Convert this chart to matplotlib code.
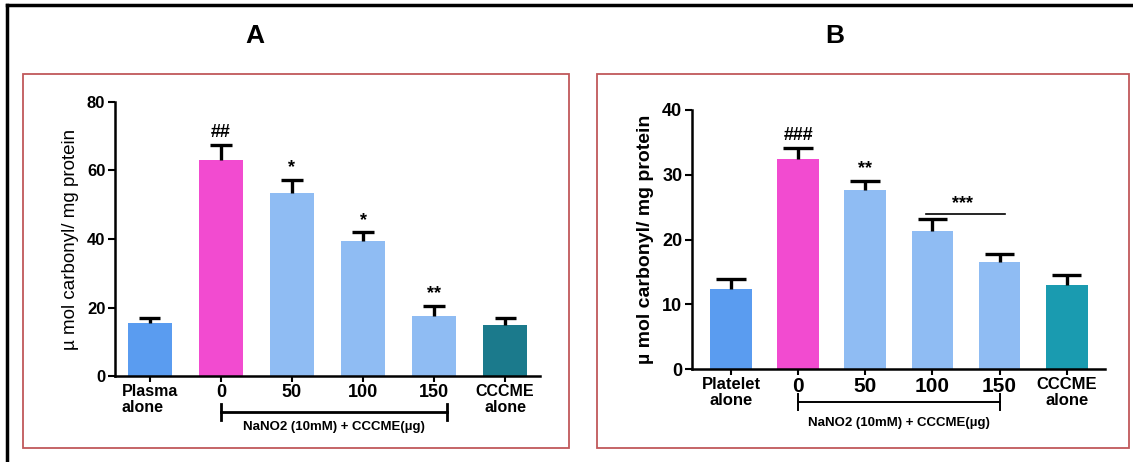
import matplotlib
matplotlib.use("Agg")
import matplotlib.pyplot as plt
from matplotlib.patches import Rectangle
from matplotlib.lines import Line2D
import matplotlib.transforms as mtransforms

plt.rcParams['font.family'] = ['Liberation Sans', 'DejaVu Sans']

# panel A - plasma
labels_a = ["Plasma\nalone", "0", "50", "100", "150", "CCCME\nalone"]
means_a = [15.5, 63.0, 53.5, 39.5, 17.5, 15.0]
errs_a = [1.5, 4.5, 3.8, 2.4, 3.0, 1.8]
marks_a = ["", "##", "*", "*", "**", ""]

# panel B - platelet
labels_b = ["Platelet\nalone", "0", "50", "100", "150", "CCCME\nalone"]
means_b = [12.3, 32.5, 27.6, 21.3, 16.6, 13.0]
errs_b = [1.6, 1.6, 1.4, 1.9, 1.2, 1.5]
marks_b = ["", "###", "**", "", "", ""]

colors_a = ["#5a9cf0", "#f24bd0", "#8fbcf3", "#8fbcf3", "#8fbcf3", "#1b7a8c"]
colors_b = ["#5a9cf0", "#f24bd0", "#8fbcf3", "#8fbcf3", "#8fbcf3", "#1a9bb0"]

W, H = 1133, 462
fig = plt.figure(figsize=(W / 100, H / 100), dpi=100)


def px_axes(x0, y_top, x1, y_bot):
    return fig.add_axes([x0 / W, 1 - y_bot / H, (x1 - x0) / W, (y_bot - y_top) / H])


def draw_panel(ax, labels, means, errs, marks, colors, ymax, step, xlim,
               ytick_fs, lab_fs, num_fs, ylab_fs, ylab_weight, mark_gap, cap):
    x = list(range(len(means)))
    ax.bar(x, means, width=0.62, color=colors, zorder=2)
    for xi, m, e in zip(x, means, errs):
        ax.plot([xi, xi], [m, m + e], color="black", lw=2.4, zorder=3,
                solid_capstyle="butt")
        ax.plot([xi - cap, xi + cap], [m + e, m + e], color="black", lw=2.4,
                zorder=3, solid_capstyle="butt")
    for xi, m, e, s in zip(x, means, errs, marks):
        if s:
            ax.text(xi, m + e + mark_gap, s, ha="center", va="bottom",
                    fontsize=13, fontweight="bold")
    ax.set_xlim(*xlim)
    ax.set_ylim(0, ymax)
    ax.set_yticks(range(0, ymax + 1, step))
    ax.set_xticks(x)
    ax.set_xticklabels(labels, fontsize=lab_fs, fontweight="bold",
                       linespacing=1.05)
    for t in ax.get_xticklabels()[1:5]:
        t.set_fontsize(num_fs)
    ax.tick_params(axis="y", labelsize=ytick_fs, width=1.5, length=5, pad=2)
    for t in ax.get_yticklabels():
        t.set_fontweight("bold")
    ax.tick_params(axis="x", width=1.5, length=4, pad=2)
    for side in ["top", "right"]:
        ax.spines[side].set_visible(False)
    for side in ["left", "bottom"]:
        ax.spines[side].set_linewidth(1.8)
    ax.set_ylabel("\u00b5 mol carbonyl/ mg protein", fontsize=ylab_fs,
                  fontweight=ylab_weight, labelpad=6)
    ax.set_facecolor("none")


def bracket(ax, x_end, y_line, y_text, lw, fs):
    tr = mtransforms.blended_transform_factory(ax.transData, ax.transAxes)
    ax.plot([1, x_end], [y_line, y_line], color="black", lw=lw, transform=tr,
            clip_on=False)
    for xe in [1, x_end]:
        ax.plot([xe, xe], [y_line - 0.03, y_line + 0.03], color="black",
                lw=lw, transform=tr, clip_on=False)
    ax.text((1 + x_end) / 2, y_text, "NaNO2 (10mM) + CCCME(\u00b5g)",
            transform=tr, ha="center", va="center", fontsize=fs,
            fontweight="bold")


# outer frame lines and panel boxes
fig.add_artist(Line2D([7 / W, 1], [1 - 5 / H, 1 - 5 / H], color="black", lw=2.5))
fig.add_artist(Line2D([7 / W, 7 / W], [0, 1 - 5 / H], color="black", lw=2.5))
for x0, x1 in [(23, 569), (597, 1129)]:
    fig.add_artist(Rectangle((x0 / W, 1 - 448 / H), (x1 - x0) / W, (448 - 74) / H,
                             transform=fig.transFigure, fill=False,
                             edgecolor="#c0585a", lw=1.3))

fig.text(255 / W, 1 - 36 / H, "A", ha="center", va="center", fontsize=19,
         fontweight="bold")
fig.text(835 / W, 1 - 36 / H, "B", ha="center", va="center", fontsize=19,
         fontweight="bold")

ax_a = px_axes(115, 102, 540, 376)
draw_panel(ax_a, labels_a, means_a, errs_a, marks_a, colors_a, 80, 20,
           (-0.49, 5.49), 12, 11.5, 13, 13.5, "normal", 1.0, 0.15)
ax_a.get_xticklabels()[0].set_multialignment("left")
bracket(ax_a, 4.18, -0.131, -0.187, 2.0, 9.5)

ax_b = px_axes(692, 110, 1105, 369)
draw_panel(ax_b, labels_b, means_b, errs_b, marks_b, colors_b, 40, 10,
           (-0.58, 5.57), 13, 12, 15, 14, "bold", 0.6, 0.22)
bracket(ax_b, 4, -0.127, -0.208, 1.4, 9.5)
ax_b.plot([2.9, 4.08], [24.0, 24.0], color="black", lw=1.2)
ax_b.text(3.45, 24.2, "***", ha="center", va="bottom", fontsize=13,
          fontweight="bold")

fig.savefig("out.png", dpi=100)
